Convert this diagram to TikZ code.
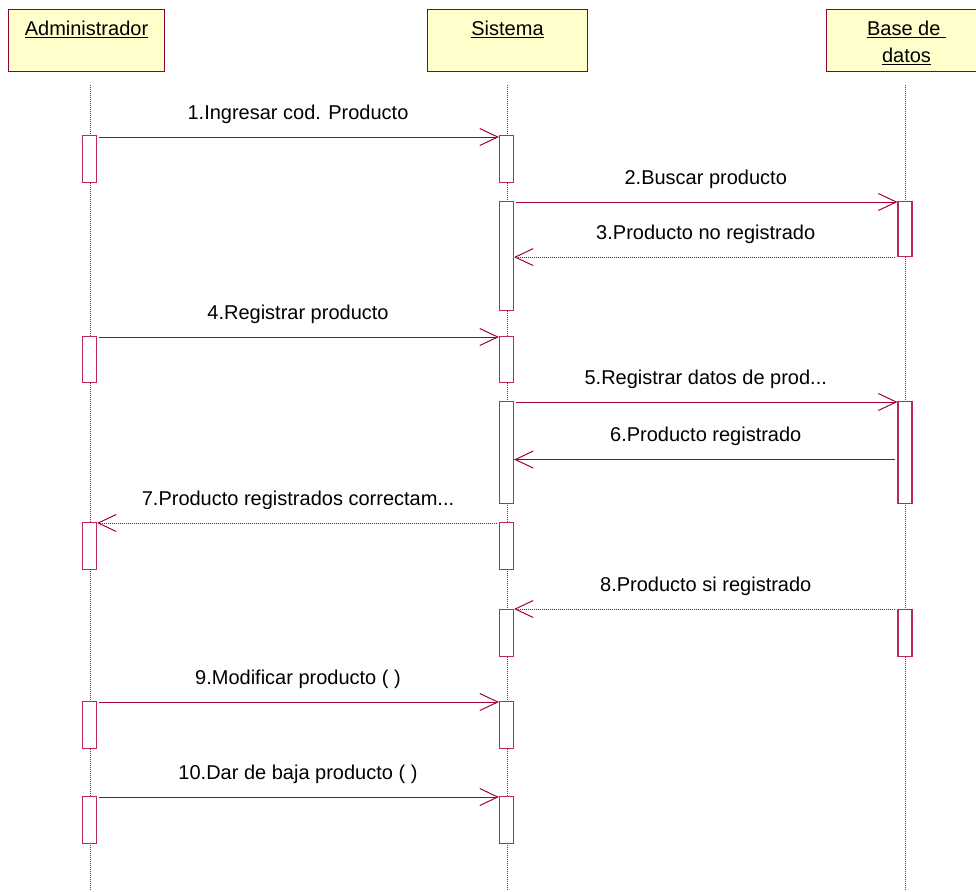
\documentclass[tikz,border=0pt]{standalone}
\usepackage{fontspec}
\setmainfont{Liberation Sans}
\usetikzlibrary{arrows.meta}
\definecolor{msgred}{RGB}{163,0,64}
\definecolor{actred}{RGB}{185,40,95}
\definecolor{headred}{RGB}{140,0,48}
\definecolor{headfill}{RGB}{255,255,204}
\tikzset{
  head/.style={draw=headred, fill=headfill, line width=1pt, rectangle,
    minimum width=156pt, minimum height=62pt, anchor=north west, inner sep=0pt},
  headtext/.style={anchor=north, align=center, inner sep=0pt,
    font=\fontsize{20}{27}\selectfont},
  lifeline/.style={draw=black!75, line width=1pt, dash pattern=on 1pt off 1pt},
  act/.style={draw=actred, fill=white, line width=1.1pt, rectangle,
    minimum width=14pt, inner sep=0pt},
  msg/.style={draw=msgred, line width=1pt, shorten <=2pt,
    -{Straight Barb[length=18pt,width=17pt]}},
  ret/.style={msg, dash pattern=on 1pt off 1pt},
  lbl/.style={font=\fontsize{20}{24}\selectfont, anchor=base, yshift=18pt, inner sep=0pt}
}
\newcommand\actbox[4]{\node[act, anchor=north, minimum height={(#4-#3)*1pt}] (#1) at (#2,#3) {};}
\begin{document}
\begin{tikzpicture}[x=1pt, y=-1pt]
\useasboundingbox (0,0) rectangle (976,891);
% participants
\node[head] (hadm) at (8,9) {};
\node[head, minimum width=160pt] (hsis) at (427,9) {};
\node[head, minimum width=160pt] (hbd) at (826,9) {};
\node[headtext] (tadm) at ([yshift=-12pt]hadm.north) {\underline{Administrador}};
\node[headtext] (tsis) at ([yshift=-12pt]hsis.north) {\underline{Sistema}};
\node[headtext] (tbd) at ([yshift=-12pt]hbd.north) {\underline{Base de~}\\\underline{datos}};
% lifelines
\coordinate (ladm) at (90,85);
\coordinate (lsis) at (507,85);
\coordinate (lbd) at (905.5,85);
\coordinate (ladmb) at (90,891);
\coordinate (lsisb) at (507,891);
\coordinate (lbdb) at (905.5,891);
\draw[lifeline] (ladm) -- (ladmb);
\draw[lifeline] (lsis) -- (lsisb);
\draw[lifeline] (lbd) -- (lbdb);
% activation bars
\actbox{a1}{89.5}{135}{182}
\actbox{a2}{89.5}{336}{382}
\actbox{a3}{89.5}{522}{569}
\actbox{a4}{89.5}{701}{748}
\actbox{a5}{89.5}{796}{843}
\actbox{s1}{506.5}{135}{182}
\actbox{s2}{506.5}{201}{310}
\actbox{s3}{506.5}{336}{382}
\actbox{s4}{506.5}{401}{503}
\actbox{s5}{506.5}{522}{569}
\actbox{s6}{506.5}{609}{656}
\actbox{s7}{506.5}{701}{748}
\actbox{s8}{506.5}{796}{843}
\actbox{b1}{905}{201}{256}
\actbox{b2}{905}{401}{503}
\actbox{b3}{905}{609}{656}
% messages
\draw[msg] ([yshift=-2pt]a1.north east) -- node[lbl, midway] {1.Ingresar cod. Producto} ([yshift=-2pt]s1.north west);
\draw[msg] ([yshift=-1pt]s2.north east) -- node[lbl, midway] {2.Buscar producto} ([yshift=-1pt]b1.north west);
\draw[ret] (b1.south west) -- node[lbl, midway] {3.Producto no registrado} (s2.east |- b1.south west);
\draw[msg] ([yshift=-1pt]a2.north east) -- node[lbl, midway] {4.Registrar producto} ([yshift=-1pt]s3.north west);
\draw[msg] ([yshift=-1pt]s4.north east) -- node[lbl, midway] {5.Registrar datos de prod...} ([yshift=-1pt]b2.north west);
\draw[msg] ([yshift=-7pt]b2.west) -- node[lbl, midway] {6.Producto registrado} ([yshift=-7pt]s4.east);
\draw[ret] ([yshift=-1pt]s5.north west) -- node[lbl, midway] {7.Producto registrados correctam...} ([yshift=-1pt]a3.north east);
\draw[ret] (b3.north west) -- node[lbl, midway] {8.Producto si registrado} (s6.north east);
\draw[msg] ([yshift=-1pt]a4.north east) -- node[lbl, midway] {9.Modificar producto ( )} ([yshift=-1pt]s7.north west);
\draw[msg] ([yshift=-1pt]a5.north east) -- node[lbl, midway] {10.Dar de baja producto ( )} ([yshift=-1pt]s8.north west);
\end{tikzpicture}
\end{document}
